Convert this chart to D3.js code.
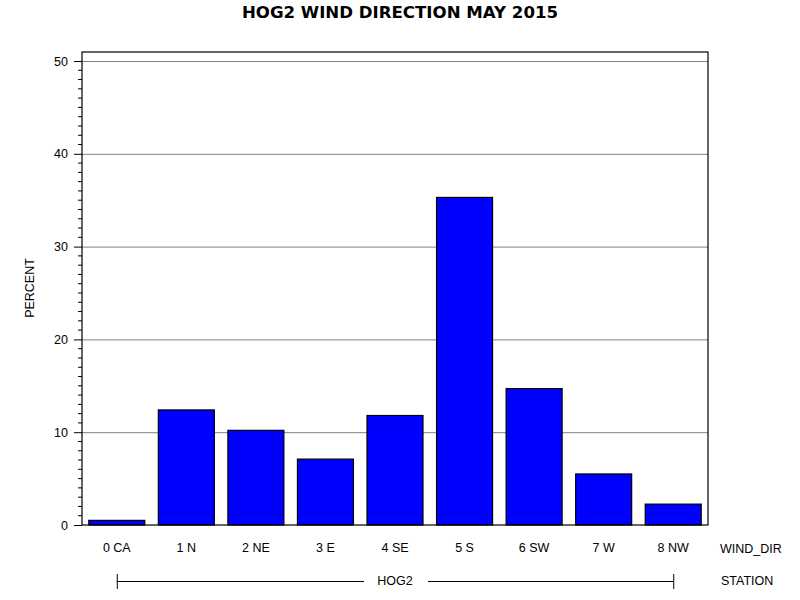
<!DOCTYPE html>
<html><head><meta charset="utf-8">
<script src="https://cdn.jsdelivr.net/npm/d3@7"></script>
<style>body{margin:0;background:#fff}svg{display:block}</style>
</head><body>
<svg id="c" width="800" height="600"></svg>
<script>
const categories = ["0 CA","1 N","2 NE","3 E","4 SE","5 S","6 SW","7 W","8 NW"];
const percent = [0.5, 12.4, 10.2, 7.1, 11.8, 35.3, 14.7, 5.5, 2.25];
const yTicks = [0,10,20,30,40,50];
const station = "HOG2";
const title = "HOG2 WIND DIRECTION MAY 2015";

const svg = d3.select("#c");
const L=82, R=708, T=52, B=525;
const font = "'Liberation Sans', Arial, sans-serif";
const fs = 12.5;
const x = d3.scaleBand().domain(categories).range([L,R]).paddingInner(0.195).paddingOuter(0.0975);
const y = d3.scaleLinear().domain([0,50]).range([B,61]);

svg.append("text").attr("x",400).attr("y",18).attr("text-anchor","middle")
  .attr("font-family","'DejaVu Sans', Verdana, sans-serif").attr("font-weight","bold").attr("font-size",16.6).text(title);

// grid
svg.append("g").selectAll("line").data(yTicks.filter(d=>d>0)).join("line")
  .attr("x1",L).attr("x2",R).attr("y1",d=>y(d)+0.5).attr("y2",d=>y(d)+0.5)
  .attr("stroke","#808080").attr("stroke-width",1);

// bars
svg.append("g").selectAll("rect").data(categories).join("rect")
  .attr("x",d=>x(d)).attr("width",x.bandwidth())
  .attr("y",(d,i)=>y(percent[i])).attr("height",(d,i)=>B-y(percent[i]))
  .attr("fill","#0000ff").attr("stroke","#000").attr("stroke-width",1.2);

// frame
svg.append("rect").attr("x",L).attr("y",T).attr("width",R-L).attr("height",B-T)
  .attr("fill","none").attr("stroke","#000").attr("stroke-width",1.2);

// y axis
const yAxis = d3.axisLeft(y).tickValues(yTicks).tickSize(8).tickPadding(6);
const gy = svg.append("g").attr("transform",`translate(${L},0)`).call(yAxis);
gy.select(".domain").remove();
gy.selectAll("text").attr("font-family",font).attr("font-size",fs).attr("fill","#000");
const minor = d3.range(0,51).filter(d=>d%10!==0);
svg.append("g").selectAll("line").data(minor).join("line")
  .attr("x1",L-4).attr("x2",L).attr("y1",d=>y(d)).attr("y2",d=>y(d)).attr("stroke","#000");

svg.append("text").attr("transform","translate(34,288) rotate(-90)").attr("text-anchor","middle")
  .attr("font-family",font).attr("font-size",fs).text("PERCENT");

// x axis labels
const xAxis = d3.axisBottom(x).tickSize(0).tickPadding(18);
const gx = svg.append("g").attr("transform",`translate(0,${B})`).call(xAxis);
gx.select(".domain").remove();
gx.selectAll("text").attr("font-family",font).attr("font-size",fs).attr("fill","#000");

svg.append("text").attr("x",720).attr("y",553).attr("font-family",font).attr("font-size",fs).text("WIND_DIR");
svg.append("text").attr("x",721).attr("y",585).attr("font-family",font).attr("font-size",fs).text("STATION");

// station bracket
const x0 = x(categories[0])+x.bandwidth()/2, x1 = x(categories[categories.length-1])+x.bandwidth()/2;
const sy = 581.5;
const g = svg.append("g").attr("stroke","#000");
const gapL = 364, gapR = 428;
g.append("line").attr("x1",x0).attr("x2",gapL).attr("y1",sy).attr("y2",sy);
g.append("line").attr("x1",gapR).attr("x2",x1).attr("y1",sy).attr("y2",sy);
g.append("line").attr("x1",x0+0.5).attr("x2",x0+0.5).attr("y1",574).attr("y2",589);
g.append("line").attr("x1",x1+0.5).attr("x2",x1+0.5).attr("y1",574).attr("y2",589);
svg.append("text").attr("x",(x0+x1)/2).attr("y",585).attr("text-anchor","middle")
  .attr("font-family",font).attr("font-size",fs).text(station);
</script>
</body></html>
